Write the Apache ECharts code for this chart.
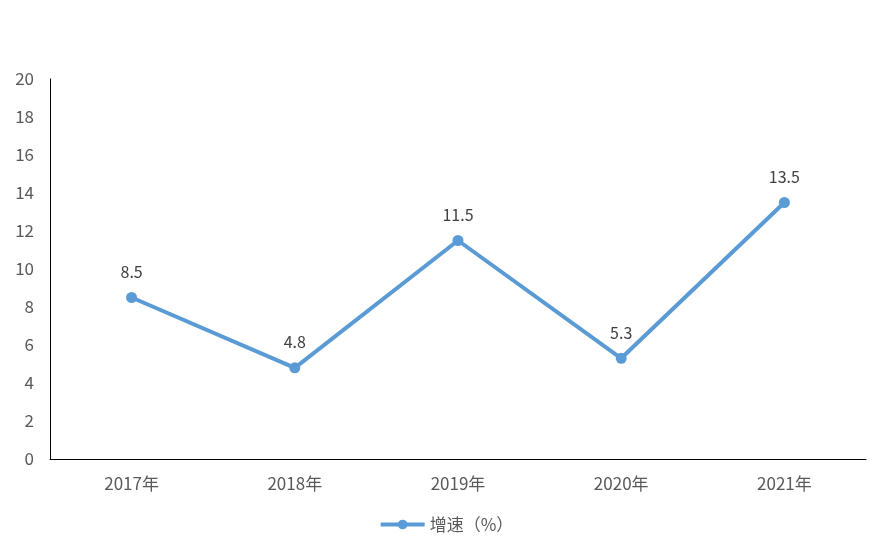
<!DOCTYPE html>
<html>
<head>
<meta charset="utf-8">
<script src="https://cdn.jsdelivr.net/npm/echarts@6/dist/echarts.min.js"></script>
<style>
html,body{margin:0;padding:0;background:#fff;}
#main{width:892px;height:557px;}
</style>
</head>
<body>
<div id="main"></div>
<script>
// 数据
var years = ['2017年', '2018年', '2019年', '2020年', '2021年'];
var growth = [8.5, 4.8, 11.5, 5.3, 13.5];
var seriesName = '增速（%）';

var font = '"Microsoft YaHei", "Noto Sans CJK SC", "Open Sans", sans-serif';
var textColor = '#595959';
var lineColor = '#5B9BD5';

var option = {
	backgroundColor: '#fff',
	animation: false,
	grid: {
		left: 50,
		right: 26,
		top: 79,
		bottom: 98
	},
	legend: {
		bottom: 19,
		left: 'center',
		itemWidth: 44,
		itemHeight: 12,
		itemGap: 8,
		lineStyle: {width: 4},
		textStyle: {color: textColor, fontSize: 17, fontFamily: font},
		data: [seriesName]
	},
	xAxis: {
		type: 'category',
		data: years,
		boundaryGap: true,
		axisLine: {lineStyle: {color: '#000', width: 1}},
		axisTick: {show: false},
		axisLabel: {color: textColor, fontSize: 17, fontFamily: font, margin: 16}
	},
	yAxis: {
		type: 'value',
		min: 0,
		max: 20,
		interval: 2,
		axisLine: {show: true, lineStyle: {color: '#000', width: 1}},
		axisTick: {show: false},
		splitLine: {show: false},
		axisLabel: {color: textColor, fontSize: 17, fontFamily: font, margin: 16}
	},
	series: [{
		name: seriesName,
		type: 'line',
		data: growth,
		symbol: 'circle',
		symbolSize: 11,
		lineStyle: {color: lineColor, width: 4},
		itemStyle: {color: lineColor},
		label: {
			show: true,
			position: 'top',
			distance: 12,
			color: '#404040',
			fontSize: 16,
			fontFamily: font
		}
	}]
};

var myChart = echarts.init(document.getElementById('main'));
myChart.setOption(option);
</script>
</body>
</html>
